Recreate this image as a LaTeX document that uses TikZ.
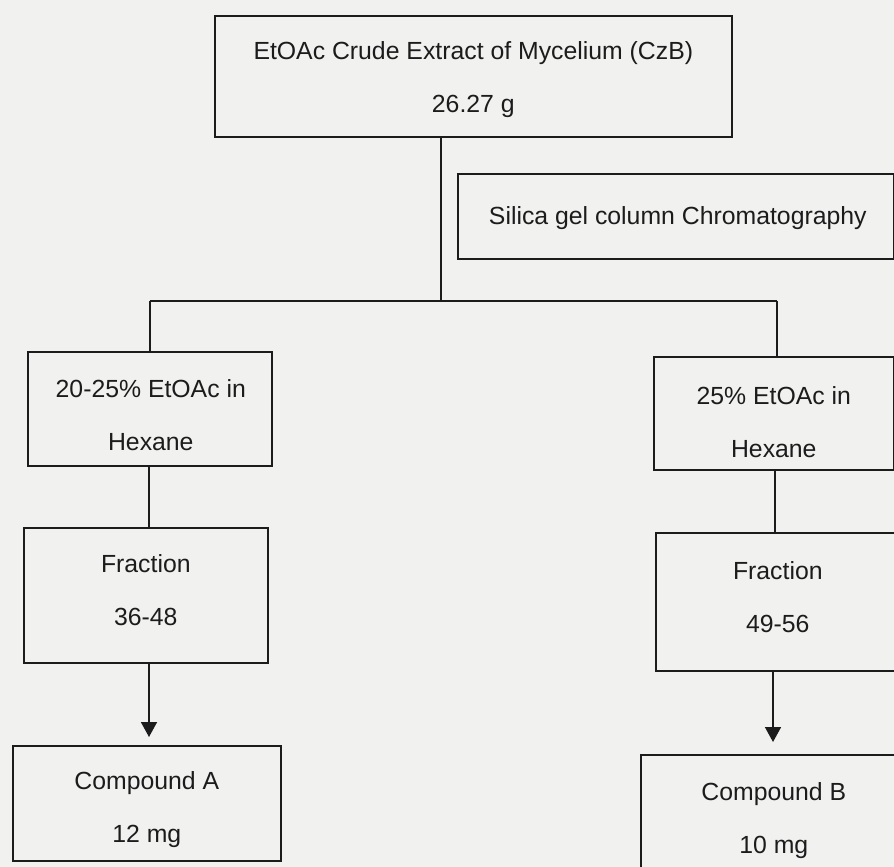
\documentclass[tikz,border=0pt]{standalone}
\usepackage{fontspec}
\setmainfont{Liberation Sans}
\usetikzlibrary{arrows.meta,calc}
\definecolor{bg}{RGB}{241,241,240}
\definecolor{ink}{RGB}{28,28,28}
\begin{document}
\begin{tikzpicture}[x=1pt,y=-1pt,
  box/.style={draw=ink,line width=1.6pt,inner sep=0pt,anchor=north west},
  txt/.style={inner sep=0pt,align=center,
    font=\fontsize{24.8}{53}\selectfont,text=ink},
  conn/.style={draw=ink,line width=1.6pt},
  arr/.style={conn,-{Triangle[length=15pt,width=16pt]}}]
\useasboundingbox[fill=bg] (0,0) rectangle (894,867);
\clip (0,0) rectangle (894,867);
% boxes
\node[box,minimum width=517pt,minimum height=121pt] (top) at (214,15) {};
\node[box,minimum width=436pt,minimum height=85pt] (silica) at (457,173) {};
\node[box,minimum width=244pt,minimum height=114pt] (l1) at (27,351) {};
\node[box,minimum width=244pt,minimum height=135pt] (l2) at (23,527) {};
\node[box,minimum width=268pt,minimum height=115pt] (l3) at (12,745) {};
\node[box,minimum width=240pt,minimum height=113pt] (r1) at (653,356) {};
\node[box,minimum width=244pt,minimum height=138pt] (r2) at (655,532) {};
\node[box,minimum width=266pt,minimum height=130pt] (r3) at (640,754) {};
% texts
\node[txt] (topt) at ($(top.center)+(0,3)$) {EtOAc Crude Extract of Mycelium (CzB)\\26.27 g};
\node[txt] (silicat) at ($(silica.center)+(2,1.5)$) {Silica gel column Chromatography};
\node[txt] (l1t) at ($(l1.center)+(1,6)$) {20-25\% EtOAc in\\Hexane};
\node[txt] (l2t) at ($(l2.center)+(0,-5)$) {Fraction\\36-48};
\node[txt] (l3t) at ($(l3.center)+(0,6)$) {Compound A\\12 mg};
\node[txt] (r1t) at ($(r1.center)+(0,8.5)$) {25\% EtOAc in\\Hexane};
\node[txt] (r2t) at ($(r2.center)+(0,-4.5)$) {Fraction\\49-56};
\node[txt] (r3t) at ($(r3.center)+(0,0.5)$) {Compound B\\10 mg};
% junction points
\coordinate (j) at (441,301);
\coordinate (bl) at (150,301);
\coordinate (br) at (777,301);
\coordinate (lx) at (149,0);
\coordinate (rx) at (775,0);
\coordinate (rax) at (773,0);
% connectors
\draw[conn] (top.south -| j) -- (j);
\draw[conn] (bl) -- (br);
\draw[conn] (bl) -- (l1.north -| bl);
\draw[conn] (br) -- (r1.north -| br);
\draw[conn] (l1.south -| lx) -- (l2.north -| lx);
\draw[arr,shorten >=8pt] (l2.south -| lx) -- (l3.north -| lx);
\draw[conn] (r1.south -| rx) -- (r2.north -| rx);
\draw[arr,shorten >=12pt] (r2.south -| rax) -- (r3.north -| rax);
\end{tikzpicture}
\end{document}
